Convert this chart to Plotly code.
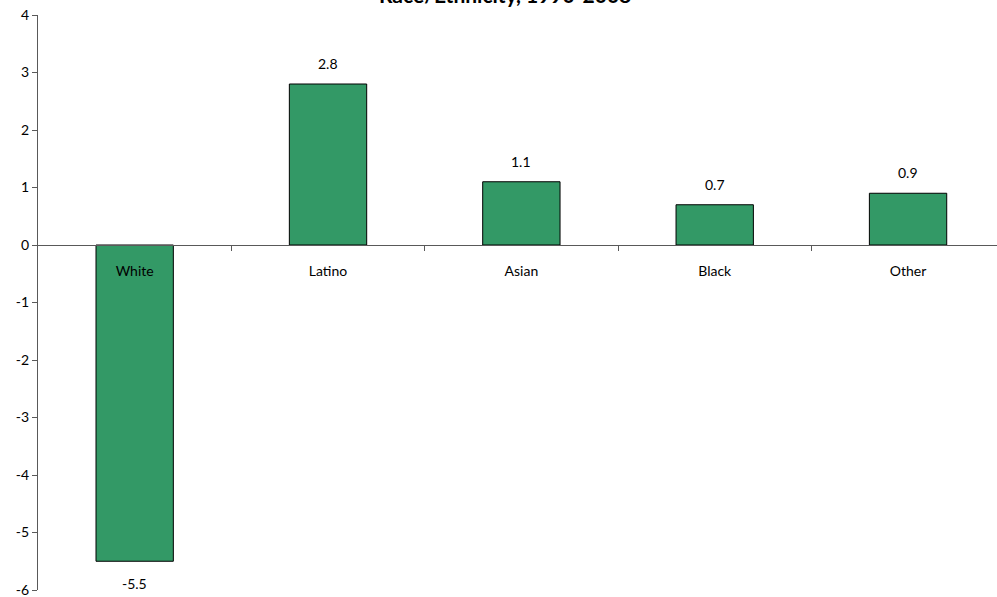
import plotly.graph_objects as go

categories = ["White", "Latino", "Asian", "Black", "Other"]
values = [-5.5, 2.8, 1.1, 0.7, 0.9]
value_labels = ["-5.5", "2.8", "1.1", "0.7", "0.9"]
y_ticks = [-6, -5, -4, -3, -2, -1, 0, 1, 2, 3, 4]
y_tick_labels = ["-6", "-5", "-4", "-3", "-2", "-1", "0", "1", "2", "3", "4"]
title_text = "Race/Ethnicity, 1990-2008"

FONT = "Lato"
xpos = list(range(len(categories)))
boundaries = [i + 0.5 for i in xpos[:-1]]

fig = go.Figure()
fig.add_trace(go.Bar(
    x=xpos, y=values, width=0.4,
    marker=dict(color="#339966", line=dict(color="#000000", width=1)),
    hoverinfo="skip",
))

annotations = []
for xi, v, lab in zip(xpos, values, value_labels):
    annotations.append(dict(
        x=xi, y=v, xref="x", yref="y", text=lab, showarrow=False,
        yanchor="bottom" if v >= 0 else "top",
        yshift=10 if v >= 0 else -12,
        font=dict(family=FONT, size=14, color="#000000"),
    ))
annotations.append(dict(
    text="<b>" + title_text + "</b>", xref="paper", yref="paper",
    x=0.487, y=1.01, xanchor="center", yanchor="bottom", showarrow=False,
    font=dict(family=FONT, size=21, color="#000000"),
))

fig.update_layout(
    width=997, height=597,
    margin=dict(l=38, r=0, t=15, b=7),
    paper_bgcolor="white", plot_bgcolor="white",
    showlegend=False,
    font=dict(family=FONT, size=14, color="#000000"),
    xaxis=dict(
        range=[-0.5, 4.46],
        tickvals=xpos, ticktext=categories,
        ticks="outside", ticklen=13, tickcolor="rgba(0,0,0,0)",
        minor=dict(tickvals=boundaries, ticks="outside", ticklen=5,
                   tickcolor="#595959", tickwidth=1),
        showline=True, linecolor="#595959", linewidth=1,
        anchor="free", position=0.6,
        showgrid=False, zeroline=False,
        tickfont=dict(family=FONT, size=14, color="#000000"),
    ),
    yaxis=dict(
        range=[-6, 4], tickvals=y_ticks, ticktext=y_tick_labels,
        ticks="outside", ticklen=5, tickcolor="#595959",
        showline=True, linecolor="#595959", linewidth=1,
        showgrid=False, zeroline=False, ticklabeloverflow="allow",
        tickfont=dict(family=FONT, size=14, color="#000000"),
    ),
    annotations=annotations,
)

fig.write_html("out.html", config={"displayModeBar": False},
               post_script="document.body.style.margin='0px';")
